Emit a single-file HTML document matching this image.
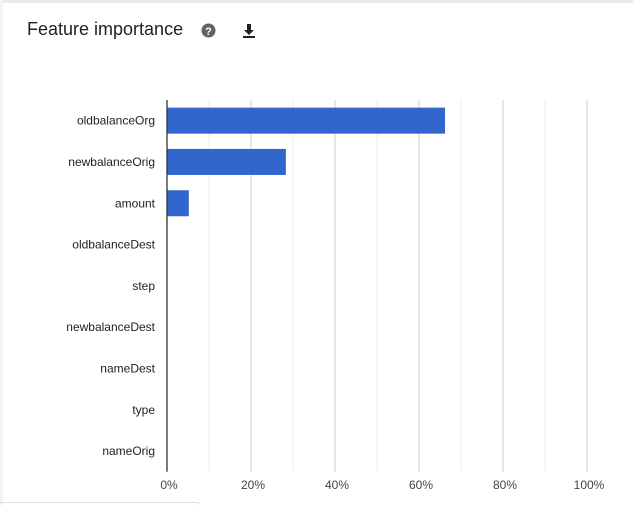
<!DOCTYPE html>
<html><head><meta charset="utf-8"><style>
body{margin:0;width:633px;height:505px;background:#fff;overflow:hidden;font-family:"Liberation Sans",Arial,sans-serif;position:relative}
.top{position:absolute;left:0;top:0;width:633px;height:3px;background:#e8eaed}
.left{position:absolute;left:0;top:0;width:3px;height:505px;background:#f1f3f4}
h1{position:absolute;left:27px;top:19px;margin:0;font-size:18px;font-weight:normal;color:#202124}
</style></head><body>
<div class="top"></div>
<div class="left"></div>
<h1>Feature importance</h1>
<svg style="position:absolute;left:201px;top:23px" width="15" height="15"><circle cx="7.5" cy="7.5" r="7" fill="#5f6368"/><text x="7.5" y="12" text-anchor="middle" font-size="11" font-weight="bold" fill="#fff" font-family="Liberation Sans">?</text></svg>
<svg style="position:absolute;left:241px;top:23px" width="16" height="16"><path d="M3 1h0M6 1h4v6h3l-5 5-5-5h3z" fill="#202124"/><rect x="2" y="13" width="12" height="2" fill="#202124"/></svg>
<svg id="chart" style="position:absolute;left:0;top:0" width="633" height="505"></svg>
<script>
const categories=["oldbalanceOrg","newbalanceOrig","amount","oldbalanceDest","step","newbalanceDest","nameDest","type","nameOrig"];
const values=[66.2,28.3,5.2,0,0,0,0,0,0];
const ticks=[0,20,40,60,80,100];
const tickLabels=["0%","20%","40%","60%","80%","100%"];
const NS="http://www.w3.org/2000/svg";
const svg=document.getElementById('chart');
const x0=167,x1=587,yTop=100,rowH=41.3;
const xs=v=>x0+(x1-x0)*v/100;
const yc=i=>yTop+rowH*(i+0.5);
const yBot=yTop+rowH*categories.length;
function el(t,a){const e=document.createElementNS(NS,t);for(const k in a)e.setAttribute(k,a[k]);svg.appendChild(e);return e;}
for(let v=10;v<=100;v+=10){
 const g=el('line',{x1:xs(v),x2:xs(v),y1:yTop,y2:yBot,stroke:v%20?'#ebebeb':'#cccccc','stroke-width':1});
 
 
}
ticks.forEach((t,i)=>{
 const tx=el('text',{x:xs(t)+2,y:489,'text-anchor':'middle','font-size':12,fill:'#444','font-family':'Liberation Sans'});
 tx.textContent=tickLabels[i];
 
 
});
categories.forEach((c,i)=>{
 const tx=el('text',{x:155,y:yc(i)+4,'text-anchor':'end','font-size':12,fill:'#222','font-family':'Liberation Sans'});
 tx.textContent=c;
 
 
 if(values[i]>0){
  const b=el('rect',{x:x0,y:yc(i)-13,width:xs(values[i])-x0,height:26,fill:'#3366cc'});
  
  
 }
});
const ax=el('line',{x1:x0,x2:x0,y1:yTop,y2:yBot,stroke:'#333','stroke-width':1.3});


const bx=el('path',{d:'M0 502.5H197a3 3 0 0 1 3 3',fill:'none',stroke:'#e0e0e0'});


</script>
</body></html>
